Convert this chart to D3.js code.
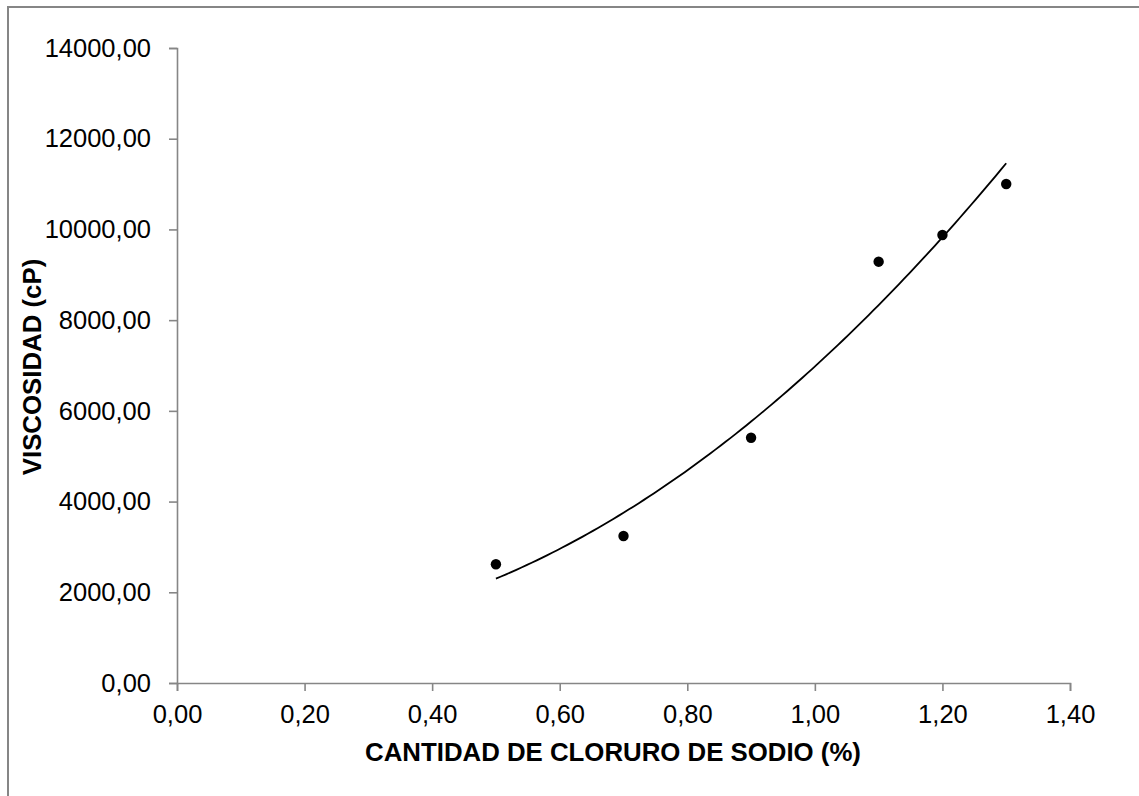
<!DOCTYPE html>
<html>
<head>
<meta charset="utf-8">
<script src="https://cdn.jsdelivr.net/npm/d3@7"></script>
<style>
  html, body { margin: 0; padding: 0; background: #fff; }
  svg { display: block; }
  text { font-family: "Liberation Sans", Arial, sans-serif; fill: #000; }
</style>
</head>
<body>
<svg id="chart" width="1139" height="796"></svg>
<script>
// Sodium chloride concentration (%) vs. viscosity (cP)
const nacl = [0.5, 0.7, 0.9, 1.1, 1.2, 1.3];
const viscosity = [2617, 3241, 5408, 9289, 9877, 11002];
const xTicks = [0, 0.2, 0.4, 0.6, 0.8, 1.0, 1.2, 1.4];
const yTicks = [0, 2000, 4000, 6000, 8000, 10000, 12000, 14000];
const xTitle = "CANTIDAD DE CLORURO DE SODIO (%)";
const yTitle = "VISCOSIDAD (cP)";

const svg = d3.select("#chart");
const W = 1139, H = 796;
const plot = { left: 177, right: 1070, top: 48, bottom: 683 };
const axisColor = "#868686";

// chart frame (runs off the right and bottom edges)
svg.append("rect")
  .attr("x", 8).attr("y", 7)
  .attr("width", W + 20).attr("height", H + 20)
  .attr("fill", "none").attr("stroke", axisColor).attr("stroke-width", 2);

const x = d3.scaleLinear().domain([0, 1.4]).range([plot.left, plot.right]);
const y = d3.scaleLinear().domain([0, 14000]).range([plot.bottom, plot.top]);

const fmt = (d, n) => d3.format(`.${n}f`)(d).replace(".", ",");

// x axis
const xAxis = svg.append("g")
  .attr("transform", `translate(0,${plot.bottom})`)
  .call(d3.axisBottom(x).tickValues(xTicks).tickSize(8).tickPadding(14)
    .tickSizeOuter(8).tickFormat(d => fmt(d, 2)));
// y axis
const yAxis = svg.append("g")
  .attr("transform", `translate(${plot.left},0)`)
  .call(d3.axisLeft(y).tickValues(yTicks).tickSize(8).tickPadding(18)
    .tickSizeOuter(8).tickFormat(d => fmt(d, 2)));

[xAxis, yAxis].forEach(g => {
  g.select(".domain").attr("stroke", axisColor).attr("stroke-width", 1.6);
  g.selectAll(".tick line").attr("stroke", axisColor).attr("stroke-width", 1.6);
  g.selectAll(".tick text").attr("font-size", 25.5)
    .attr("font-family", "'Liberation Sans', Arial, sans-serif").attr("fill", "#000");
});

// second-order polynomial least-squares trendline
function quadFit(xs, ys) {
  let s = [0, 0, 0, 0, 0], t = [0, 0, 0];
  xs.forEach((xv, i) => {
    for (let k = 0; k <= 4; k++) s[k] += Math.pow(xv, k);
    for (let k = 0; k <= 2; k++) t[k] += Math.pow(xv, k) * ys[i];
  });
  const M = [[s[0], s[1], s[2], t[0]], [s[1], s[2], s[3], t[1]], [s[2], s[3], s[4], t[2]]];
  for (let c = 0; c < 3; c++) {
    for (let r = c + 1; r < 3; r++) {
      const f = M[r][c] / M[c][c];
      for (let k = c; k < 4; k++) M[r][k] -= f * M[c][k];
    }
  }
  const coef = [0, 0, 0];
  for (let r = 2; r >= 0; r--) {
    let v = M[r][3];
    for (let k = r + 1; k < 3; k++) v -= M[r][k] * coef[k];
    coef[r] = v / M[r][r];
  }
  return xv => coef[0] + coef[1] * xv + coef[2] * xv * xv;
}
const trend = quadFit(nacl, viscosity);
const xMin = d3.min(nacl), xMax = d3.max(nacl);
const curve = d3.range(0, 101).map(i => xMin + (xMax - xMin) * i / 100);

svg.append("path")
  .datum(curve)
  .attr("fill", "none").attr("stroke", "#000").attr("stroke-width", 1.8)
  .attr("d", d3.line().x(d => x(d)).y(d => y(trend(d))));

// measured points
svg.append("g").selectAll("circle")
  .data(nacl.map((d, i) => [d, viscosity[i]]))
  .join("circle")
  .attr("cx", d => x(d[0])).attr("cy", d => y(d[1]))
  .attr("r", 5.2).attr("fill", "#000");

// axis titles
svg.append("text")
  .attr("x", 613).attr("y", 761)
  .attr("text-anchor", "middle").attr("font-size", 25.8).attr("font-weight", "bold")
  .text(xTitle);
svg.append("text")
  .attr("transform", `translate(41,367) rotate(-90)`)
  .attr("text-anchor", "middle").attr("font-size", 25.8).attr("font-weight", "bold")
  .text(yTitle);
</script>
</body>
</html>
